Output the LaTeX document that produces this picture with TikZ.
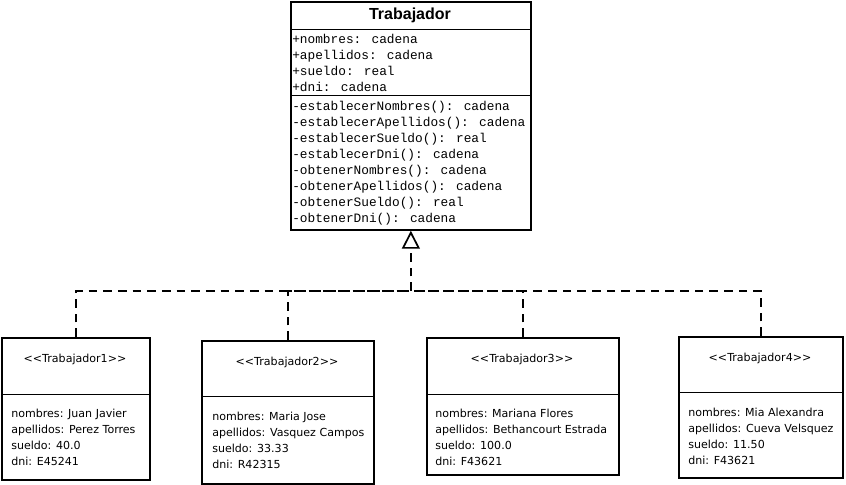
\documentclass[tikz,border=0pt]{standalone}
\usepackage{fontspec}
\newfontfamily\objfont{DejaVu Sans}
\newfontfamily\titfont{Liberation Sans}
\newfontfamily\codefont{Liberation Mono}
\usetikzlibrary{arrows.meta, positioning}

\begin{document}
\begin{tikzpicture}[
    x=0.75pt, y=-0.75pt,
    clase/.style={rectangle, draw, line width=1.3pt, anchor=north west,
                  inner sep=0pt},
    sep/.style={line width=0.7pt},
    titulo/.style={font=\titfont\bfseries\fontsize{12}{14}\selectfont},
    miembro/.style={font=\codefont\fontsize{9.6}{12}\selectfont, align=left,
                    anchor=west, inner sep=0pt},
    estereo/.style={font=\objfont\fontsize{8.3}{12}\selectfont},
    dato/.style={font=\objfont\fontsize{8.3}{12}\selectfont, align=left,
                 anchor=west, inner sep=0pt},
    realiza/.style={line width=1.3pt, dash pattern=on 6.5pt off 4.5pt},
    herencia/.style={realiza, -{Triangle[open, length=13.5pt, width=13.5pt]}},
]
\useasboundingbox (0,0) rectangle (846,485);

% ---------- Superclase ----------
\node[clase, minimum width=180pt, minimum height=171pt] (trab) at (290,1) {};
\node[titulo] (nombre) at (410,15) {Trabajador};
\draw[sep] (trab.west |- 0,29) -- (trab.east |- 0,29);
\draw[sep] (trab.west |- 0,95) -- (trab.east |- 0,95);
\node[miembro] (atrib) at (292,63)
    {+nombres: cadena\\+apellidos: cadena\\+sueldo: real\\+dni: cadena};
\node[miembro] (metod) at (292,163)
    {-establecerNombres(): cadena\\-establecerApellidos(): cadena\\
     -establecerSueldo(): real\\-establecerDni(): cadena\\
     -obtenerNombres(): cadena\\-obtenerApellidos(): cadena\\
     -obtenerSueldo(): real\\-obtenerDni(): cadena};

% ---------- Objetos ----------
\node[clase, minimum width=111pt, minimum height=106.5pt]  (t1) at (1,337)   {};
\node[clase, minimum width=129pt, minimum height=107.25pt] (t2) at (201,340) {};
\node[clase, minimum width=144pt, minimum height=102.75pt] (t3) at (426,337) {};
\node[clase, minimum width=123pt, minimum height=105.75pt] (t4) at (678,336) {};

\draw[sep] (t1.west |- 0,394) -- (t1.east |- 0,394);
\draw[sep] (t2.west |- 0,396) -- (t2.east |- 0,396);
\draw[sep] (t3.west |- 0,394) -- (t3.east |- 0,394);
\draw[sep] (t4.west |- 0,392) -- (t4.east |- 0,392);

\node[estereo] (e1) at (75,359)  {<<Trabajador1>>};
\node[estereo] (e2) at (287,362) {<<Trabajador2>>};
\node[estereo] (e3) at (522,359) {<<Trabajador3>>};
\node[estereo] (e4) at (760,358) {<<Trabajador4>>};

\node[dato] (d1) at (11,437)
    {nombres: Juan Javier\\apellidos: Perez Torres\\sueldo: 40.0\\dni: E45241};
\node[dato] (d2) at (212,440)
    {nombres: Maria Jose\\apellidos: Vasquez Campos\\sueldo: 33.33\\dni: R42315};
\node[dato] (d3) at (435,437)
    {nombres: Mariana Flores\\apellidos: Bethancourt Estrada\\sueldo: 100.0\\dni: F43621};
\node[dato] (d4) at (688,436)
    {nombres: Mia Alexandra\\apellidos: Cueva Velsquez\\sueldo: 11.50\\dni: F43621};

% ---------- Herencia ----------
\coordinate (bus) at (trab.south |- 0,291);
\draw[realiza] (t1.north) |- (bus);
\draw[realiza] (t2.north) |- (bus);
\draw[realiza] (t3.north) |- (bus);
\draw[realiza] (t4.north) |- (bus);
\draw[herencia] (bus) -- (trab.south);

\end{tikzpicture}
\end{document}
